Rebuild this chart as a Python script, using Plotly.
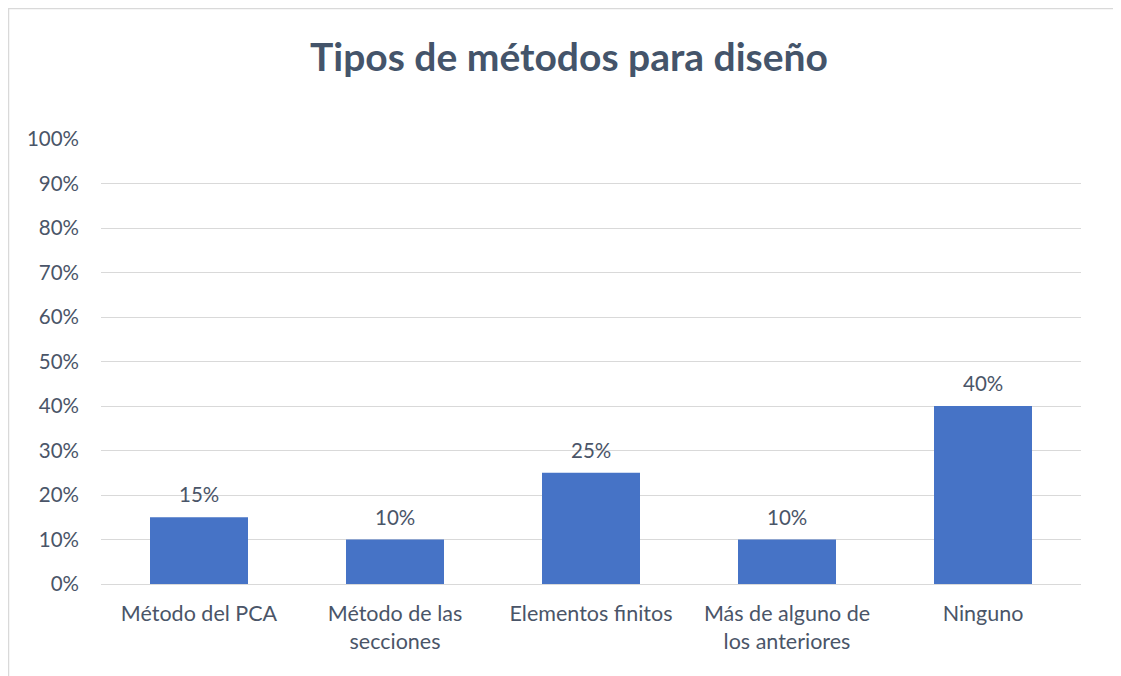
import plotly.graph_objects as go

categories = ["Método del PCA", "Método de las<br>secciones", "Elementos finitos",
              "Más de alguno de<br>los anteriores", "Ninguno"]
values = [0.15, 0.10, 0.25, 0.10, 0.40]
value_labels = ["15%", "10%", "25%", "10%", "40%"]
tick_vals = [0, 0.1, 0.2, 0.3, 0.4, 0.5, 0.6, 0.7, 0.8, 0.9, 1.0]
tick_text = ["0%", "10%", "20%", "30%", "40%", "50%", "60%", "70%", "80%", "90%", "100%"]

# page has an 8px body margin; figure coordinates are page minus 8
W, H = 1113, 668
L, R, T, B = 93, 40, 131, 92
pw, ph = W - L - R, H - T - B

def px_x(x):
    return (x - L) / pw

def px_y(y):
    return (H - B - y) / ph

text_color = "#44546A"
label_color = "#4A5568"
font_family = "Lato, 'Open Sans', sans-serif"

fig = go.Figure()
fig.add_trace(go.Bar(
    x=categories, y=values,
    marker=dict(color="#4673C6", line=dict(width=0)),
    width=0.5, hoverinfo="x+y",
))

annotations = []
for c, v, t in zip(categories, values, value_labels):
    annotations.append(dict(x=c, y=v, xref="x", yref="y", text=t, showarrow=False,
                            yanchor="bottom", yshift=9,
                            font=dict(size=20.5, color=label_color, family=font_family)))

fig.update_layout(
    width=W, height=H,
    margin=dict(l=L, r=R, t=T, b=B, autoexpand=False),
    paper_bgcolor="white", plot_bgcolor="white",
    showlegend=False,
    title=dict(text="<b>Tipos de métodos para diseño</b>",
               xref="container", x=561 / W, xanchor="center",
               yref="container", y=1 - 49 / H, yanchor="middle",
               font=dict(size=39, color=text_color, family=font_family)),
    font=dict(family=font_family, color=label_color),
    xaxis=dict(showgrid=False, showline=True, linecolor="#D9D9D9", linewidth=1,
               tickfont=dict(size=21.5, color=label_color), ticks="", tickangle=0,
               ticklabelstandoff=10),
    yaxis=dict(range=[0, 1.0], tickvals=tick_vals, ticktext=tick_text,
               showgrid=True, gridcolor="#D9D9D9", gridwidth=1, zeroline=False,
               showline=False, ticks="", ticklabelstandoff=21,
               tickfont=dict(size=20.5, color=label_color)),
    annotations=annotations,
    shapes=[dict(type="rect", xref="paper", yref="paper",
                 x0=px_x(0.5), x1=px_x(W + 20), y0=px_y(H + 20), y1=px_y(0.5),
                 line=dict(color="#D9D9D9", width=1.5), fillcolor="rgba(0,0,0,0)",
                 layer="below")],
)

fig.write_html("out.html")
